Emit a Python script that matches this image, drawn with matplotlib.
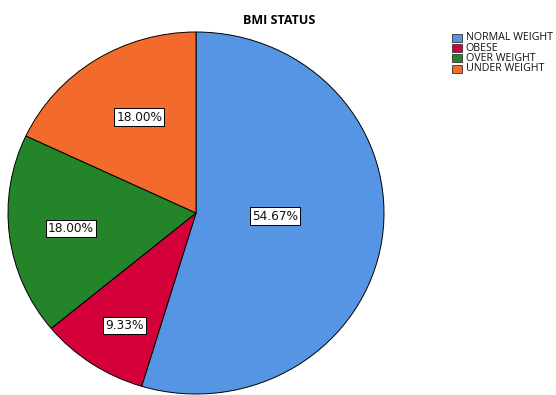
import matplotlib
matplotlib.use("Agg")
import numpy as np
import matplotlib.pyplot as plt
from matplotlib.patches import Rectangle

categories = ["NORMAL WEIGHT", "OBESE", "OVER WEIGHT", "UNDER WEIGHT"]
percentages = [54.67, 9.33, 18.00, 18.00]
title = "BMI STATUS"

colors = ["#5595e3", "#d3003a", "#24842a", "#f26a2c"]
# placement of each percentage box: radius (fraction of pie) and angular nudge (deg)
label_radius = [0.42, 0.73, 0.67, 0.61]
label_nudge = [6.1, 2.1, 0.0, -2.7]

W, H = 556, 395
fig = plt.figure(figsize=(W / 100, H / 100), dpi=100)
fig.patch.set_facecolor("white")
ax = fig.add_axes([8 / W, 1 / H, 376 / W, 362 / H])

wedges, _ = ax.pie(
    percentages,
    colors=colors,
    startangle=90,
    counterclock=False,
    radius=1.0,
    wedgeprops=dict(edgecolor="black", linewidth=0.7),
)
ax.set_aspect("auto")
ax.set_xlim(-1.0, 1.0)
ax.set_ylim(-1.0, 1.0)
ax.axis("off")

for w, pct, r, nudge in zip(wedges, percentages, label_radius, label_nudge):
    mid = np.deg2rad((w.theta1 + w.theta2) / 2.0 + nudge)
    ax.text(
        r * np.cos(mid), r * np.sin(mid), f"{pct:.2f}%",
        ha="center", va="center", fontsize=8.7, family="DejaVu Sans",
        color="#111111",
        bbox=dict(boxstyle="square,pad=0.18", facecolor="white",
                  edgecolor="black", linewidth=0.7),
    )

fig.text(279.5 / W, 1 - 20.5 / H, title, ha="center", va="center",
         fontsize=9, fontweight="bold", family="Open Sans")

# legend drawn as swatches and labels in figure pixels
row_y = 38.0
row_step = 10.2
for i, (c, name) in enumerate(zip(colors, categories)):
    y = row_y + i * row_step
    fig.add_artist(Rectangle((452 / W, 1 - (y + 4.0) / H), 10 / W, 8 / H,
                             transform=fig.transFigure, facecolor=c,
                             edgecolor="#333333", linewidth=0.6))
    fig.text(465.5 / W, 1 - y / H, name, ha="left", va="center",
             fontsize=7.7, family="Open Sans", color="#111111")

fig.savefig("out.png", dpi=100, facecolor="white")
